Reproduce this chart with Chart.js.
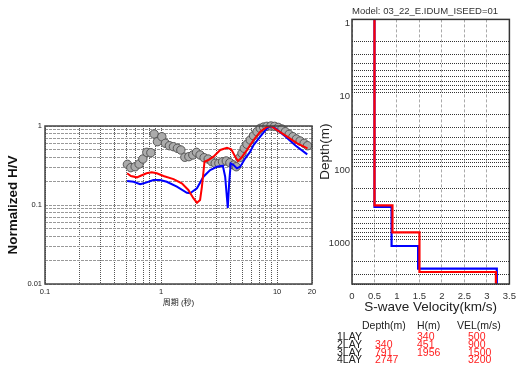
<!DOCTYPE html>
<html>
<head>
<meta charset="utf-8">
<script src="https://cdn.jsdelivr.net/npm/chart.js@4.4.1/dist/chart.umd.min.js"></script>
<style>
  body { margin: 0; width: 523px; height: 377px; background: #fff; position: relative; overflow: hidden;
         font-family: "Liberation Sans", Arial, "Noto Sans CJK JP", sans-serif; }
  .box { position: absolute; }
  .t { position: absolute; font-size: 10.5px; line-height: 10px; white-space: nowrap; color: #222; }
  .red { color: #ff2020; }
</style>
</head>
<body>
<div class="box" style="left:0;top:110px;width:330px;height:205px"><canvas id="hvChart"></canvas></div>
<div class="box" style="left:300px;top:0;width:223px;height:316px"><canvas id="vsChart"></canvas></div>
<div id="layerTable"></div>

<script>
// observed H/V (grey circles)
const periodObs = [0.513, 0.549, 0.598, 0.647, 0.697, 0.754, 0.817, 0.872, 0.931, 1.016,
                   1.091, 1.181, 1.279, 1.384, 1.482, 1.603, 1.737, 1.880, 2.02, 2.17,
                   2.35, 2.55, 2.74, 2.93, 3.15, 3.39, 3.65, 3.92, 4.22, 4.45,
                   4.75, 4.98, 5.21, 5.50, 5.87, 6.27, 6.71, 7.16, 7.65, 8.18,
                   8.86, 9.52, 10.24, 11.0, 11.8, 12.7, 13.7, 14.7, 15.8, 17.1, 18.3];
const hvObs = [0.327, 0.297, 0.305, 0.330, 0.382, 0.464, 0.459, 0.792, 0.633, 0.732,
               0.604, 0.563, 0.547, 0.522, 0.497, 0.402, 0.409, 0.430, 0.464, 0.430,
               0.397, 0.382, 0.353, 0.337, 0.337, 0.353, 0.361, 0.343, 0.321, 0.305,
               0.397, 0.451, 0.522, 0.587, 0.665, 0.754, 0.847, 0.935, 0.97, 0.99,
               1.0, 0.99, 0.96, 0.916, 0.847, 0.785, 0.732, 0.685, 0.646, 0.604, 0.563];

// theoretical H/V, final model (red)
const periodRed = [0.51, 0.55, 0.62, 0.66, 0.75, 0.83, 0.92, 1.05, 1.28, 1.51,
                   1.72, 1.90, 2.04, 2.17, 2.25, 2.37, 2.56, 2.83, 3.24, 3.70,
                   4.03, 4.36, 4.60, 4.88, 5.50, 6.27, 7.16, 8.18, 8.86, 9.98,
                   12.2, 14.9, 18.3];
const hvRed = [0.252, 0.233, 0.224, 0.233, 0.252, 0.259, 0.252, 0.233, 0.213, 0.188,
               0.155, 0.122, 0.107, 0.116, 0.17, 0.353, 0.371, 0.409, 0.497, 0.531,
               0.507, 0.409, 0.361, 0.390, 0.497, 0.665, 0.847, 0.97, 1.0, 0.89,
               0.732, 0.604, 0.522];

// theoretical H/V, initial model (blue)
const periodBlue = [0.51, 0.58, 0.66, 0.71, 0.86, 0.98, 1.12, 1.37, 1.67, 1.78,
                    2.04, 2.32, 2.65, 3.03, 3.41, 3.57, 3.76, 3.87, 3.99, 4.22,
                    4.51, 4.81, 5.32, 5.87, 6.27, 7.16, 8.18, 8.8, 9.65, 11.8,
                    14.4, 18.2];
const hvBlue = [0.201, 0.197, 0.183, 0.188, 0.207, 0.207, 0.197, 0.171, 0.143, 0.141,
                0.163, 0.228, 0.277, 0.305, 0.314, 0.228, 0.092, 0.197, 0.337, 0.321,
                0.291, 0.305, 0.390, 0.473, 0.574, 0.732, 0.93, 1.0, 0.935, 0.736,
                0.566, 0.438];

// tick labels
const periodLabels = [0.1, 1, 10, 20];
const hvLabels = [0.01, 0.1, 1];
const depthLabels = [1, 10, 100, 1000];
const velTicks = [0, 0.5, 1, 1.5, 2, 2.5, 3, 3.5];

// layer table (final model, red)
const layerNames = ['1LAY', '2LAY', '3LAY', '4LAY'];
const layerDepth = [null, 340, 791, 2747];
const layerThick = [340, 451, 1956, null];
const layerVel = [500, 900, 1500, 3200];

// initial model profile (blue)
const blueVel = [0.5, 0.88, 1.47, 3.22];
const blueDepth = [357, 1215, 2468];

const FONT = '"Liberation Sans", Arial, "Noto Sans CJK JP", sans-serif';

function toPoints(xs, ys) {
    return xs.map((x, i) => ({ x: x, y: ys[i] }));
}

// 1..9 x 10^n values between min and max, used for grid lines
function logGrid(min, max) {
    const vals = [];
    for (let p = Math.floor(Math.log10(min)); p <= Math.ceil(Math.log10(max)); p++) {
        for (let k = 1; k < 10; k++) {
            const v = parseFloat((k * Math.pow(10, p)).toPrecision(6));
            if (v >= min * 0.999 && v <= max * 1.001) vals.push(v);
        }
    }
    return vals;
}

function labelIf(list) {
    return (v) => list.some(l => Math.abs(l - v) < l * 1e-6) ? String(v) : '';
}

// step profile: velocity per layer, interface depths between them
function profilePoints(vel, depth, dMin, dMax) {
    const pts = [];
    let top = dMin;
    vel.forEach((v, i) => {
        const bottom = i < depth.length ? depth[i] : dMax;
        pts.push({ x: v, y: top }, { x: v, y: bottom });
        top = bottom;
    });
    return pts;
}

// box round the plot area
const framePlugin = {
    id: 'frame',
    afterDatasetsDraw(chart, args, opts) {
        const { ctx, chartArea: a } = chart;
        ctx.save();
        ctx.strokeStyle = opts.color || '#444';
        ctx.lineWidth = opts.width || 1.5;
        ctx.strokeRect(a.left, a.top, a.right - a.left, a.bottom - a.top);
        ctx.restore();
    }
};

Chart.defaults.font.family = FONT;
Chart.defaults.color = '#222';

// H/V chart
new Chart(document.getElementById('hvChart'), {
    type: 'scatter',
    data: {
        datasets: [
            { data: toPoints(periodRed, hvRed), showLine: true, borderColor: '#ff0000',
              borderWidth: 2, pointRadius: 0 },
            { data: toPoints(periodBlue, hvBlue), showLine: true, borderColor: '#0000ff',
              borderWidth: 2, pointRadius: 0 },
            { data: toPoints(periodObs, hvObs), showLine: false, pointRadius: 4.2,
              pointBackgroundColor: '#ababab', pointBorderColor: '#555', pointBorderWidth: 1, clip: false }
        ]
    },
    options: {
        responsive: true,
        maintainAspectRatio: false,
        animation: false,
        devicePixelRatio: 1,
        layout: { padding: { top: 16, right: 18, left: 0, bottom: 0 } },
        plugins: { legend: { display: false }, tooltip: { enabled: false }, frame: { color: '#444', width: 1.5 } },
        scales: {
            x: {
                type: 'logarithmic', min: 0.1, max: 20,
                afterBuildTicks: (s) => { s.ticks = logGrid(0.1, 20).map(v => ({ value: v })); },
                afterFit: (s) => { s.height = 31; },
                ticks: { callback: labelIf(periodLabels), autoSkip: false, maxRotation: 0,
                         font: { size: 7.5 }, padding: 3, color: '#222' },
                grid: { color: '#555', drawTicks: false, lineWidth: 1 },
                border: { display: false, dash: [1, 1] },
                title: { display: true, text: '周期 (秒)', font: { size: 8 }, padding: { top: 0, bottom: 7 } }
            },
            y: {
                type: 'logarithmic', min: 0.01, max: 1,
                afterBuildTicks: (s) => { s.ticks = logGrid(0.01, 1).map(v => ({ value: v })); },
                afterFit: (s) => { s.width = 45; },
                ticks: { callback: labelIf(hvLabels), autoSkip: false, font: { size: 7.5 }, padding: 3, color: '#222' },
                grid: { color: '#999', drawTicks: false, lineWidth: 1 },
                border: { display: false, dash: [3, 1] },
                title: { display: true, text: 'Normalized H/V', font: { size: 13.5, weight: 'bold' },
                         color: '#111', padding: { top: 5, bottom: 0 } }
            }
        }
    },
    plugins: [framePlugin]
});

// S-wave velocity profile
const depthMin = 1, depthMax = 4000;
new Chart(document.getElementById('vsChart'), {
    type: 'scatter',
    data: {
        datasets: [
            { data: profilePoints(layerVel.map(v => v / 1000), layerDepth.slice(1), depthMin, depthMax),
              showLine: true, borderColor: '#ff0000', borderWidth: 2.2, pointRadius: 0 },
            { data: profilePoints(blueVel, blueDepth, depthMin, depthMax),
              showLine: true, borderColor: '#0000ff', borderWidth: 2.2, pointRadius: 0 }
        ]
    },
    options: {
        responsive: true,
        maintainAspectRatio: false,
        animation: false,
        devicePixelRatio: 1,
        layout: { padding: { top: 0, right: 13, left: 0, bottom: 0 } },
        plugins: {
            legend: { display: false },
            tooltip: { enabled: false },
            frame: { color: '#333', width: 1.5 },
            title: { display: true, text: 'Model: 03_22_E.IDUM_ISEED=01', align: 'start', fullSize: false,
                     color: '#333', font: { size: 9.5, weight: 'normal' }, padding: { top: 6, bottom: 2 } }
        },
        scales: {
            x: {
                type: 'linear', min: 0, max: 3.5,
                afterBuildTicks: (s) => { s.ticks = velTicks.map(v => ({ value: v })); },
                afterFit: (s) => { s.height = 32; },
                ticks: { callback: (v) => String(v), autoSkip: false, maxRotation: 0,
                         font: { size: 9.5 }, padding: 7, color: '#333' },
                grid: { color: '#aaa', drawTicks: false, lineWidth: 1 },
                border: { display: false, dash: [3, 2] },
                title: { display: true, text: 'S-wave Velocity(km/s)', font: { size: 13.5 }, color: '#222',
                         padding: { top: 0, bottom: 1 } }
            },
            y: {
                type: 'logarithmic', min: depthMin, max: depthMax, reverse: true,
                afterBuildTicks: (s) => { s.ticks = logGrid(depthMin, depthMax).map(v => ({ value: v })); },
                afterFit: (s) => { s.width = 52; },
                ticks: { callback: labelIf(depthLabels), autoSkip: false, font: { size: 9.5 },
                         padding: 2, labelOffset: 4, color: '#333' },
                grid: { color: '#333', drawTicks: false, lineWidth: 1 },
                border: { display: false, dash: [1, 1] },
                title: { display: true, text: 'Depth(m)', font: { size: 13.5 }, color: '#222',
                         padding: { top: 17, bottom: 0 } }
            }
        }
    },
    plugins: [framePlugin]
});

// layer table under the profile
function addText(text, x, yMid, cls) {
    const el = document.createElement('div');
    el.className = 't' + (cls ? ' ' + cls : '');
    el.textContent = text;
    el.style.left = x + 'px';
    el.style.top = (yMid - 5) + 'px';
    document.getElementById('layerTable').appendChild(el);
}

addText('Depth(m)', 362, 325);
addText('H(m)', 417, 325);
addText('VEL(m/s)', 457, 325);
layerNames.forEach((name, i) => {
    const y = 336 + i * 7.8;
    addText(name, 337, y);
    if (layerDepth[i] !== null) addText(String(layerDepth[i]), 375, y, 'red');
    if (layerThick[i] !== null) addText(String(layerThick[i]), 417, y, 'red');
    addText(String(layerVel[i]), 468, y, 'red');
});
</script>
</body>
</html>
